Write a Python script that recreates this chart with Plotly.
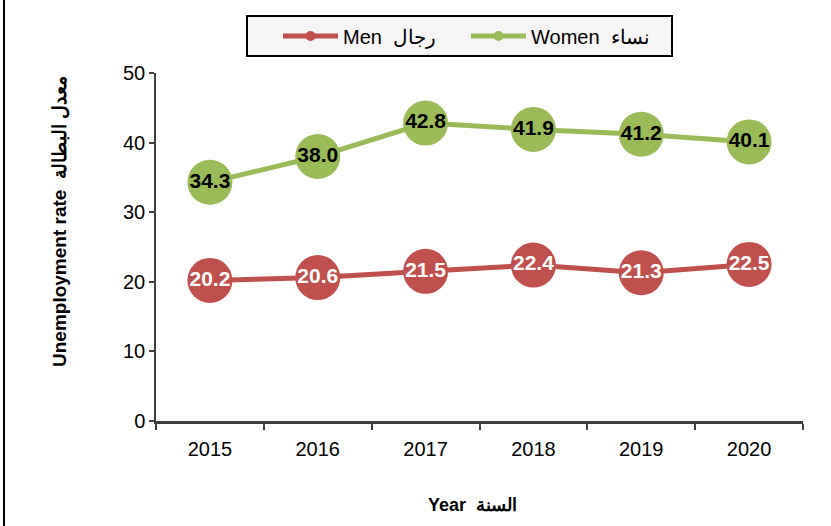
import plotly.graph_objects as go

years = ["2015", "2016", "2017", "2018", "2019", "2020"]
men = [20.2, 20.6, 21.5, 22.4, 21.3, 22.5]
women = [34.3, 38.0, 42.8, 41.9, 41.2, 40.1]
men_name = "Men  رجال"
women_name = "Women  نساء"
x_title = "<b>Year</b>  <b>السنة</b>"
y_title = "<b>Unemployment rate</b>  <b>معدل البطالة</b>"

RED = "#C0504D"
GREEN = "#9BBB59"
FONT = "Liberation Sans, Arial, sans-serif"

W, H = 831, 526
ML, MR, MT, MB = 156, 28, 73, 105

fig = go.Figure()

fig.add_trace(go.Scatter(
    x=years, y=men, mode="lines+markers+text", showlegend=False,
    line=dict(color=RED, width=5), marker=dict(color=RED, size=45),
    text=[f"{v:.1f}" for v in men], textposition="middle center",
    textfont=dict(family=FONT, size=21, color="white", weight="bold"),
    hoverinfo="skip",
))
fig.add_trace(go.Scatter(
    x=years, y=women, mode="lines+markers+text", showlegend=False,
    line=dict(color=GREEN, width=5), marker=dict(color=GREEN, size=45),
    text=[f"{v:.1f}" for v in women], textposition="middle center",
    textfont=dict(family=FONT, size=21, color="black", weight="bold"),
    hoverinfo="skip",
))
# legend-only entries
fig.add_trace(go.Scatter(
    x=[None], y=[None], mode="lines+markers", name=men_name,
    line=dict(color=RED, width=5), marker=dict(color=RED, size=10),
))
fig.add_trace(go.Scatter(
    x=[None], y=[None], mode="lines+markers", name=women_name,
    line=dict(color=GREEN, width=5), marker=dict(color=GREEN, size=10),
))

pw = W - ML - MR
ph = H - MT - MB


def px_x(x):
    return (x - ML) / pw


def px_y(y):
    return (H - MB - y) / ph


# outer frame line on the left
fig.add_shape(type="line", xref="paper", yref="paper",
              x0=px_x(4), x1=px_x(4), y0=px_y(H), y1=px_y(0),
              line=dict(color="black", width=2))
# legend box
fig.add_shape(type="rect", xref="paper", yref="paper",
              x0=px_x(247), x1=px_x(672), y0=px_y(56), y1=px_y(16),
              fillcolor="#F5F5F5", line=dict(color="black", width=2), layer="below")

# axis titles
fig.add_annotation(text=x_title, xref="paper", yref="paper",
                   x=px_x(472), y=px_y(505), showarrow=False,
                   xanchor="center", yanchor="middle",
                   font=dict(family=FONT, size=18, color="black"))
fig.add_annotation(text=y_title, xref="paper", yref="paper",
                   x=px_x(60), y=px_y(222), showarrow=False, textangle=-90,
                   xanchor="center", yanchor="middle",
                   font=dict(family=FONT, size=19, color="black"))

fig.update_layout(
    width=W, height=H,
    margin=dict(l=ML, r=MR, t=MT, b=MB, autoexpand=False),
    paper_bgcolor="white", plot_bgcolor="white",
    font=dict(family=FONT, color="black"),
    legend=dict(
        orientation="h", x=px_x(278), xanchor="left",
        y=px_y(36), yanchor="middle",
        bgcolor="rgba(0,0,0,0)", borderwidth=0,
        font=dict(family=FONT, size=20, color="black"),
        itemwidth=55, entrywidth=118,
    ),
    xaxis=dict(
        type="category", range=[-0.5, len(years) - 0.5],
        tickson="boundaries", ticks="outside", ticklen=6,
        tickwidth=2, tickcolor="#404040", ticklabelstandoff=8,
        showline=True, linecolor="#404040", linewidth=3,
        showgrid=False, zeroline=False, automargin=False,
        tickfont=dict(family=FONT, size=20, color="black"),
    ),
    yaxis=dict(
        range=[0, 50], dtick=10, ticks="outside", ticklen=5,
        tickwidth=1.5, tickcolor="#404040",
        showline=True, linecolor="#404040", linewidth=1.5,
        showgrid=False, zeroline=False, automargin=False,
        tickfont=dict(family=FONT, size=20, color="black"),
    ),
)

fig.write_html("out.html", config={"displayModeBar": False},
               post_script="document.body.style.margin='0';")
